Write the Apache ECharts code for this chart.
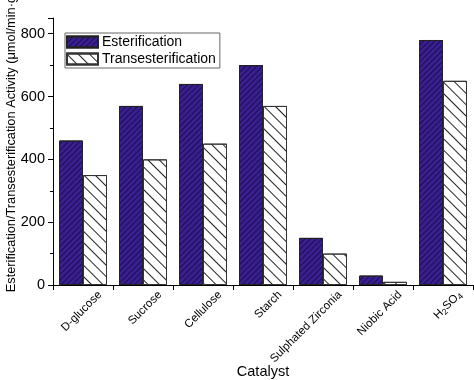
<!DOCTYPE html>
<html><head><meta charset="utf-8">
<script src="https://cdn.jsdelivr.net/npm/echarts@6/dist/echarts.min.js"></script>
<style>html,body{margin:0;padding:0;background:#fff}#c{width:474px;height:380px}</style>
</head><body><div id="c"></div>
<script>
const categories = ['D-glucose','Sucrose','Cellulose','Starch','Sulphated Zirconia','Niobic Acid','H2SO4'];
const esterification = [460, 570, 640, 700, 150, 30, 780];
const transesterification = [350, 400, 450, 570, 100, 10, 650];
const yTicks = [0, 200, 400, 600, 800];

const chart = echarts.init(document.getElementById('c'), null, {renderer:'canvas'});
const font = 'Liberation Sans, Arial, sans-serif';
chart.setOption({
  animation:false,
  grid:{left:53, right:1, top:18, bottom:95, containLabel:false, outerBoundsMode:'none'},
  legend:{
    left:65, top:33, orient:'vertical', itemGap:3, itemWidth:31, itemHeight:11, icon:'rect',
    padding:[2,4,2,1], borderColor:'#666', borderWidth:1,
    textStyle:{fontFamily:font, fontSize:14, color:'#000', padding:[0,0,0,-1]},
    data:['Esterification','Transesterification']
  },
  xAxis:{
    type:'category', data:categories,
    name:'Catalyst', nameLocation:'middle', nameGap:87, nameMoveOverlap:false,
    nameTextStyle:{fontFamily:font, fontSize:14.5, color:'#000', verticalAlign:'middle'},
    axisLine:{lineStyle:{color:'#000', width:1}},
    axisTick:{show:true, length:5, alignWithLabel:false, lineStyle:{color:'#000'}},
    axisLabel:{
      rotate:45, fontFamily:font, fontSize:11.5, color:'#000', margin:8, interval:0,
      padding:[24,-12,0,0],
      formatter:function(v){ return v==='H2SO4' ? 'H{s|2}SO{s|4}' : v; },
      rich:{s:{fontSize:8.5, verticalAlign:'bottom', fontFamily:font, color:'#000', padding:[6,0,0,0]}}
    }
  },
  yAxis:{
    type:'value', min:0, max:850, interval:200,
    name:'Esterification/Transesterification Activity (μmol/min·g)',
    nameLocation:'middle', nameGap:42, nameMoveOverlap:false,
    nameTextStyle:{fontFamily:'Liberation Sans Narrow, Arial Narrow, sans-serif', fontSize:12.8, color:'#000', verticalAlign:'middle', padding:[0,0,0,19]},
    axisLine:{show:true, lineStyle:{color:'#000', width:1}},
    axisTick:{show:true, length:5, lineStyle:{color:'#000'}},
    minorTick:{show:true, splitNumber:2, length:3, lineStyle:{color:'#000'}},
    splitLine:{show:false},
    axisLabel:{fontFamily:font, fontSize:14.5, color:'#000', margin:8,
      formatter:function(v){ return yTicks.indexOf(v)>=0 ? String(v) : ''; }}
  },
  series:[
    {name:'Esterification', type:'bar', data:esterification, barWidth:24, barGap:'0%',
      itemStyle:{color:'#3a1f8e', borderColor:'#222', borderWidth:1,
        decal:{symbol:'rect', symbolSize:1, dashArrayX:[1,0], dashArrayY:[1,3], rotation:-Math.PI/4, color:'#1c0c55'}}},
    {name:'Transesterification', type:'bar', data:transesterification, barWidth:24, barGap:'0%',
      itemStyle:{color:'#ffffff', borderColor:'#333', borderWidth:1,
        decal:{symbol:'rect', symbolSize:1, dashArrayX:[1,0], dashArrayY:[1,7], rotation:Math.PI/4, color:'#222'}}}
  ]
});
</script></body></html>
